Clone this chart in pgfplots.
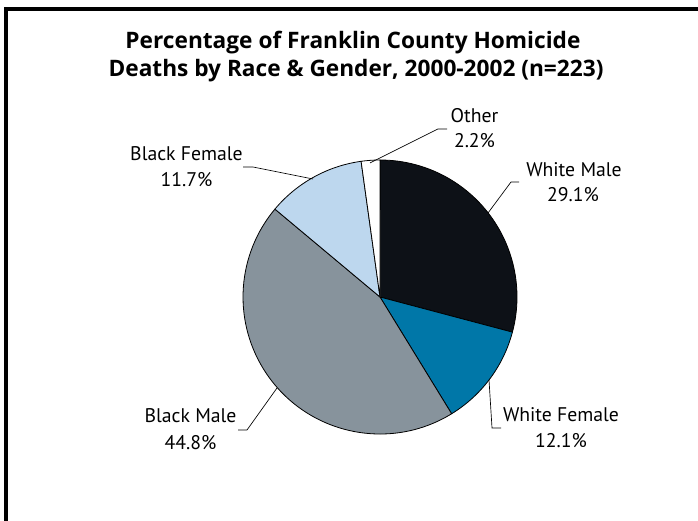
\documentclass[border=0pt]{standalone}
\usepackage{pgfplots}
\usepackage{pgfplotstable}
\pgfplotsset{compat=1.18}
\usepackage{fontspec}
\setmainfont{PT Sans}
\newfontfamily\titlefont{Open Sans}
\definecolor{cWM}{HTML}{0D1117}
\definecolor{cWF}{HTML}{0077A8}
\definecolor{cBM}{HTML}{87939C}
\definecolor{cBF}{HTML}{BDD7EE}
\definecolor{cOT}{HTML}{FFFFFF}

\pgfplotstableread[col sep=comma]{
label,pct,col
White Male,29.1,cWM
White Female,12.1,cWF
Black Male,44.8,cBM
Black Female,11.7,cBF
Other,2.2,cOT
}\piedata

\begin{document}
\begin{tikzpicture}[x=0.75pt,y=0.75pt]
% compute wedge angles from the data
\def\total{0}
\pgfplotsforeachungrouped \i in {0,...,4}{%
  \pgfplotstablegetelem{\i}{pct}\of\piedata
  \pgfmathsetmacro{\total}{\total+\pgfplotsretval}%
  \xdef\total{\total}%
}
\def\cum{90}
\pgfplotsforeachungrouped \i in {0,...,4}{%
  \pgfplotstablegetelem{\i}{pct}\of\piedata
  \pgfmathsetmacro{\sweep}{\pgfplotsretval/\total*360}%
  \pgfmathsetmacro{\endang}{\cum-\sweep}%
  \expandafter\xdef\csname sa\i\endcsname{\cum}%
  \expandafter\xdef\csname ea\i\endcsname{\endang}%
  \pgfplotstablegetelem{\i}{col}\of\piedata
  \expandafter\xdef\csname co\i\endcsname{\pgfplotsretval}%
  \xdef\cum{\endang}%
}
\begin{axis}[
  hide axis, scale only axis,
  width=523.5pt, height=390pt,
  xmin=0, xmax=698, ymin=0, ymax=520,
  clip=false,
]
\pgfplotsinvokeforeach{0,...,4}{%
  \fill[fill=\csname co#1\endcsname, draw=black, line width=0.6pt, line join=round]
    (axis cs:380,223) -- ++(\csname sa#1\endcsname:102.75pt)
    arc[start angle=\csname sa#1\endcsname, end angle=\csname ea#1\endcsname, radius=102.75pt] -- cycle;
}
% frame
\draw[line width=2.4pt] (axis cs:6,-20) -- (axis cs:6,511) -- (axis cs:720,511);
% title
\node[anchor=base, font=\titlefont\bfseries\fontsize{17}{20}\selectfont] at (axis cs:353,471) {Percentage of Franklin County Homicide};
\node[anchor=base, font=\titlefont\bfseries\fontsize{17}{20}\selectfont] at (axis cs:356,443) {Deaths by Race \& Gender, 2000-2002 (n=223)};
% leader lines
\draw[line width=0.5pt] (axis cs:370,357) -- (axis cs:438,391) -- (axis cs:447,391);
\draw[line width=0.5pt] (axis cs:488,307) -- (axis cs:511,338) -- (axis cs:519,338);
\draw[line width=0.5pt] (axis cs:243,353) -- (axis cs:253,353) -- (axis cs:313,341);
\draw[line width=0.5pt] (axis cs:277,132) -- (axis cs:247,90) -- (axis cs:238,90);
\draw[line width=0.5pt] (axis cs:489,140) -- (axis cs:492,92) -- (axis cs:501,92);
% labels
\tikzset{lab/.style={anchor=base, font=\fontsize{14.8}{17}\selectfont, inner sep=0pt}}
\node[lab] at (axis cs:474.5,397) {Other};
\node[lab] at (axis cs:474.5,372) {2.2\%};
\node[lab] at (axis cs:574,343) {White Male};
\node[lab] at (axis cs:573,318) {29.1\%};
\node[lab] at (axis cs:186.5,359) {Black Female};
\node[lab] at (axis cs:186.5,333) {11.7\%};
\node[lab] at (axis cs:190.5,97) {Black Male};
\node[lab] at (axis cs:190.5,70) {44.8\%};
\node[lab] at (axis cs:561,98) {White Female};
\node[lab] at (axis cs:561,72) {12.1\%};
\end{axis}
\pgfresetboundingbox
\path[use as bounding box] (current axis.south west) rectangle (current axis.north east);
\end{tikzpicture}
\end{document}
